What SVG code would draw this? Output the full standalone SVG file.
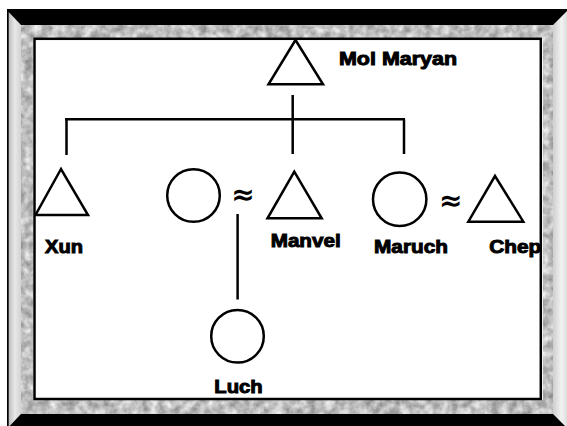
<svg xmlns="http://www.w3.org/2000/svg" width="567" height="426" viewBox="0 0 567 426">
<style>
.shape{fill:#fff;stroke:#000;stroke-width:2.5}
.line{stroke:#000;stroke-width:2.5;fill:none}
.lbl{font-family:"Liberation Sans",Arial,sans-serif;font-weight:bold;font-size:19px;fill:#000;stroke:#000;stroke-width:1}
.eq{font-family:"DejaVu Sans",sans-serif;font-weight:bold;font-size:28px;fill:#000;text-anchor:middle}
</style>
<defs>
<filter id="stone" x="0" y="0" width="1" height="1" filterUnits="objectBoundingBox" color-interpolation-filters="sRGB">
<feTurbulence type="fractalNoise" baseFrequency="0.12" numOctaves="3" seed="4" result="n"/>
<feColorMatrix in="n" type="matrix" values="0.55 0 0 0 0.47  0.55 0 0 0 0.47  0.55 0 0 0 0.47  0 0 0 0 1" result="g"/>
<feComposite in="g" in2="SourceGraphic" operator="in"/>
</filter>
<linearGradient id="bevL" x1="0" y1="0" x2="1" y2="0">
<stop offset="0" stop-color="#bcbcbc"/>
<stop offset="0.5" stop-color="#e8e8e8"/>
<stop offset="1" stop-color="#d2d2d2"/>
</linearGradient>
<linearGradient id="bevR" x1="0" y1="0" x2="1" y2="0">
<stop offset="0" stop-color="#cfcfcf"/>
<stop offset="0.6" stop-color="#f2f2f2"/>
<stop offset="1" stop-color="#dedede"/>
</linearGradient>
</defs>
<rect x="0" y="0" width="567" height="426" fill="#fff"/>
<rect x="36" y="40" width="505" height="359" fill="#fff"/>

<g id="connectors">
<line class="line" x1="292.7" y1="95" x2="292.7" y2="119.3"/>
<line class="line" x1="65" y1="119.3" x2="405" y2="119.3"/>
<line class="line" x1="66.5" y1="119.3" x2="66.5" y2="155"/>
<line class="line" x1="292.7" y1="119.3" x2="292.7" y2="154"/>
<line class="line" x1="404" y1="119.3" x2="404" y2="154"/>
<line class="line" x1="237.6" y1="214" x2="237.6" y2="299.5"/>
<text class="eq" x="243" y="204">≈</text>
<text class="eq" x="450.7" y="210">≈</text>
</g>

<g id="mol-maryan">
<polygon class="shape" points="295.5,40 268.5,84.3 323,84.3"/>
<text class="lbl" x="339" y="65" textLength="118" lengthAdjust="spacingAndGlyphs">Mol Maryan</text>
</g>
<g id="xun">
<polygon class="shape" points="61,169 35.5,215 88,215"/>
<text class="lbl" x="45" y="253" textLength="38" lengthAdjust="spacingAndGlyphs">Xun</text>
</g>
<g id="wife">
<circle class="shape" cx="193.5" cy="195.5" r="26.3"/>
</g>
<g id="manvel">
<polygon class="shape" points="294.3,171.7 267.5,218.3 321.7,218.3"/>
<text class="lbl" x="270.7" y="246.7" textLength="70" lengthAdjust="spacingAndGlyphs">Manvel</text>
</g>
<g id="maruch">
<circle class="shape" cx="399.7" cy="199.3" r="26.7"/>
<text class="lbl" x="374" y="253.3" textLength="74" lengthAdjust="spacingAndGlyphs">Maruch</text>
</g>
<g id="chep">
<polygon class="shape" points="495,176 468.3,221.7 523.3,221.7"/>
<text class="lbl" x="489.3" y="253.3" textLength="52" lengthAdjust="spacingAndGlyphs">Chep</text>
</g>
<g id="luch">
<circle class="shape" cx="237.5" cy="336.3" r="26.3"/>
<text class="lbl" x="214.3" y="393.3" textLength="48.4" lengthAdjust="spacingAndGlyphs">Luch</text>
</g>

<g id="frame">
<path d="M7,9 H567 V426 H7 Z M21,25 V414 H553 V25 Z" fill="#000" fill-rule="evenodd"/>
<path d="M21,25 H553 V414 H21 Z M33,38 V400 H543 V38 Z" fill="#bbb" fill-rule="evenodd" filter="url(#stone)"/>
<polygon points="8.7,12 21,25 21,414 8.7,427" fill="url(#bevL)"/>
<polygon points="553,25 567,11 567,428 553,414" fill="url(#bevR)"/>
<rect x="34.5" y="38.8" width="506.3" height="360.2" fill="none" stroke="#000" stroke-width="2.5"/>
</g>
</svg>
